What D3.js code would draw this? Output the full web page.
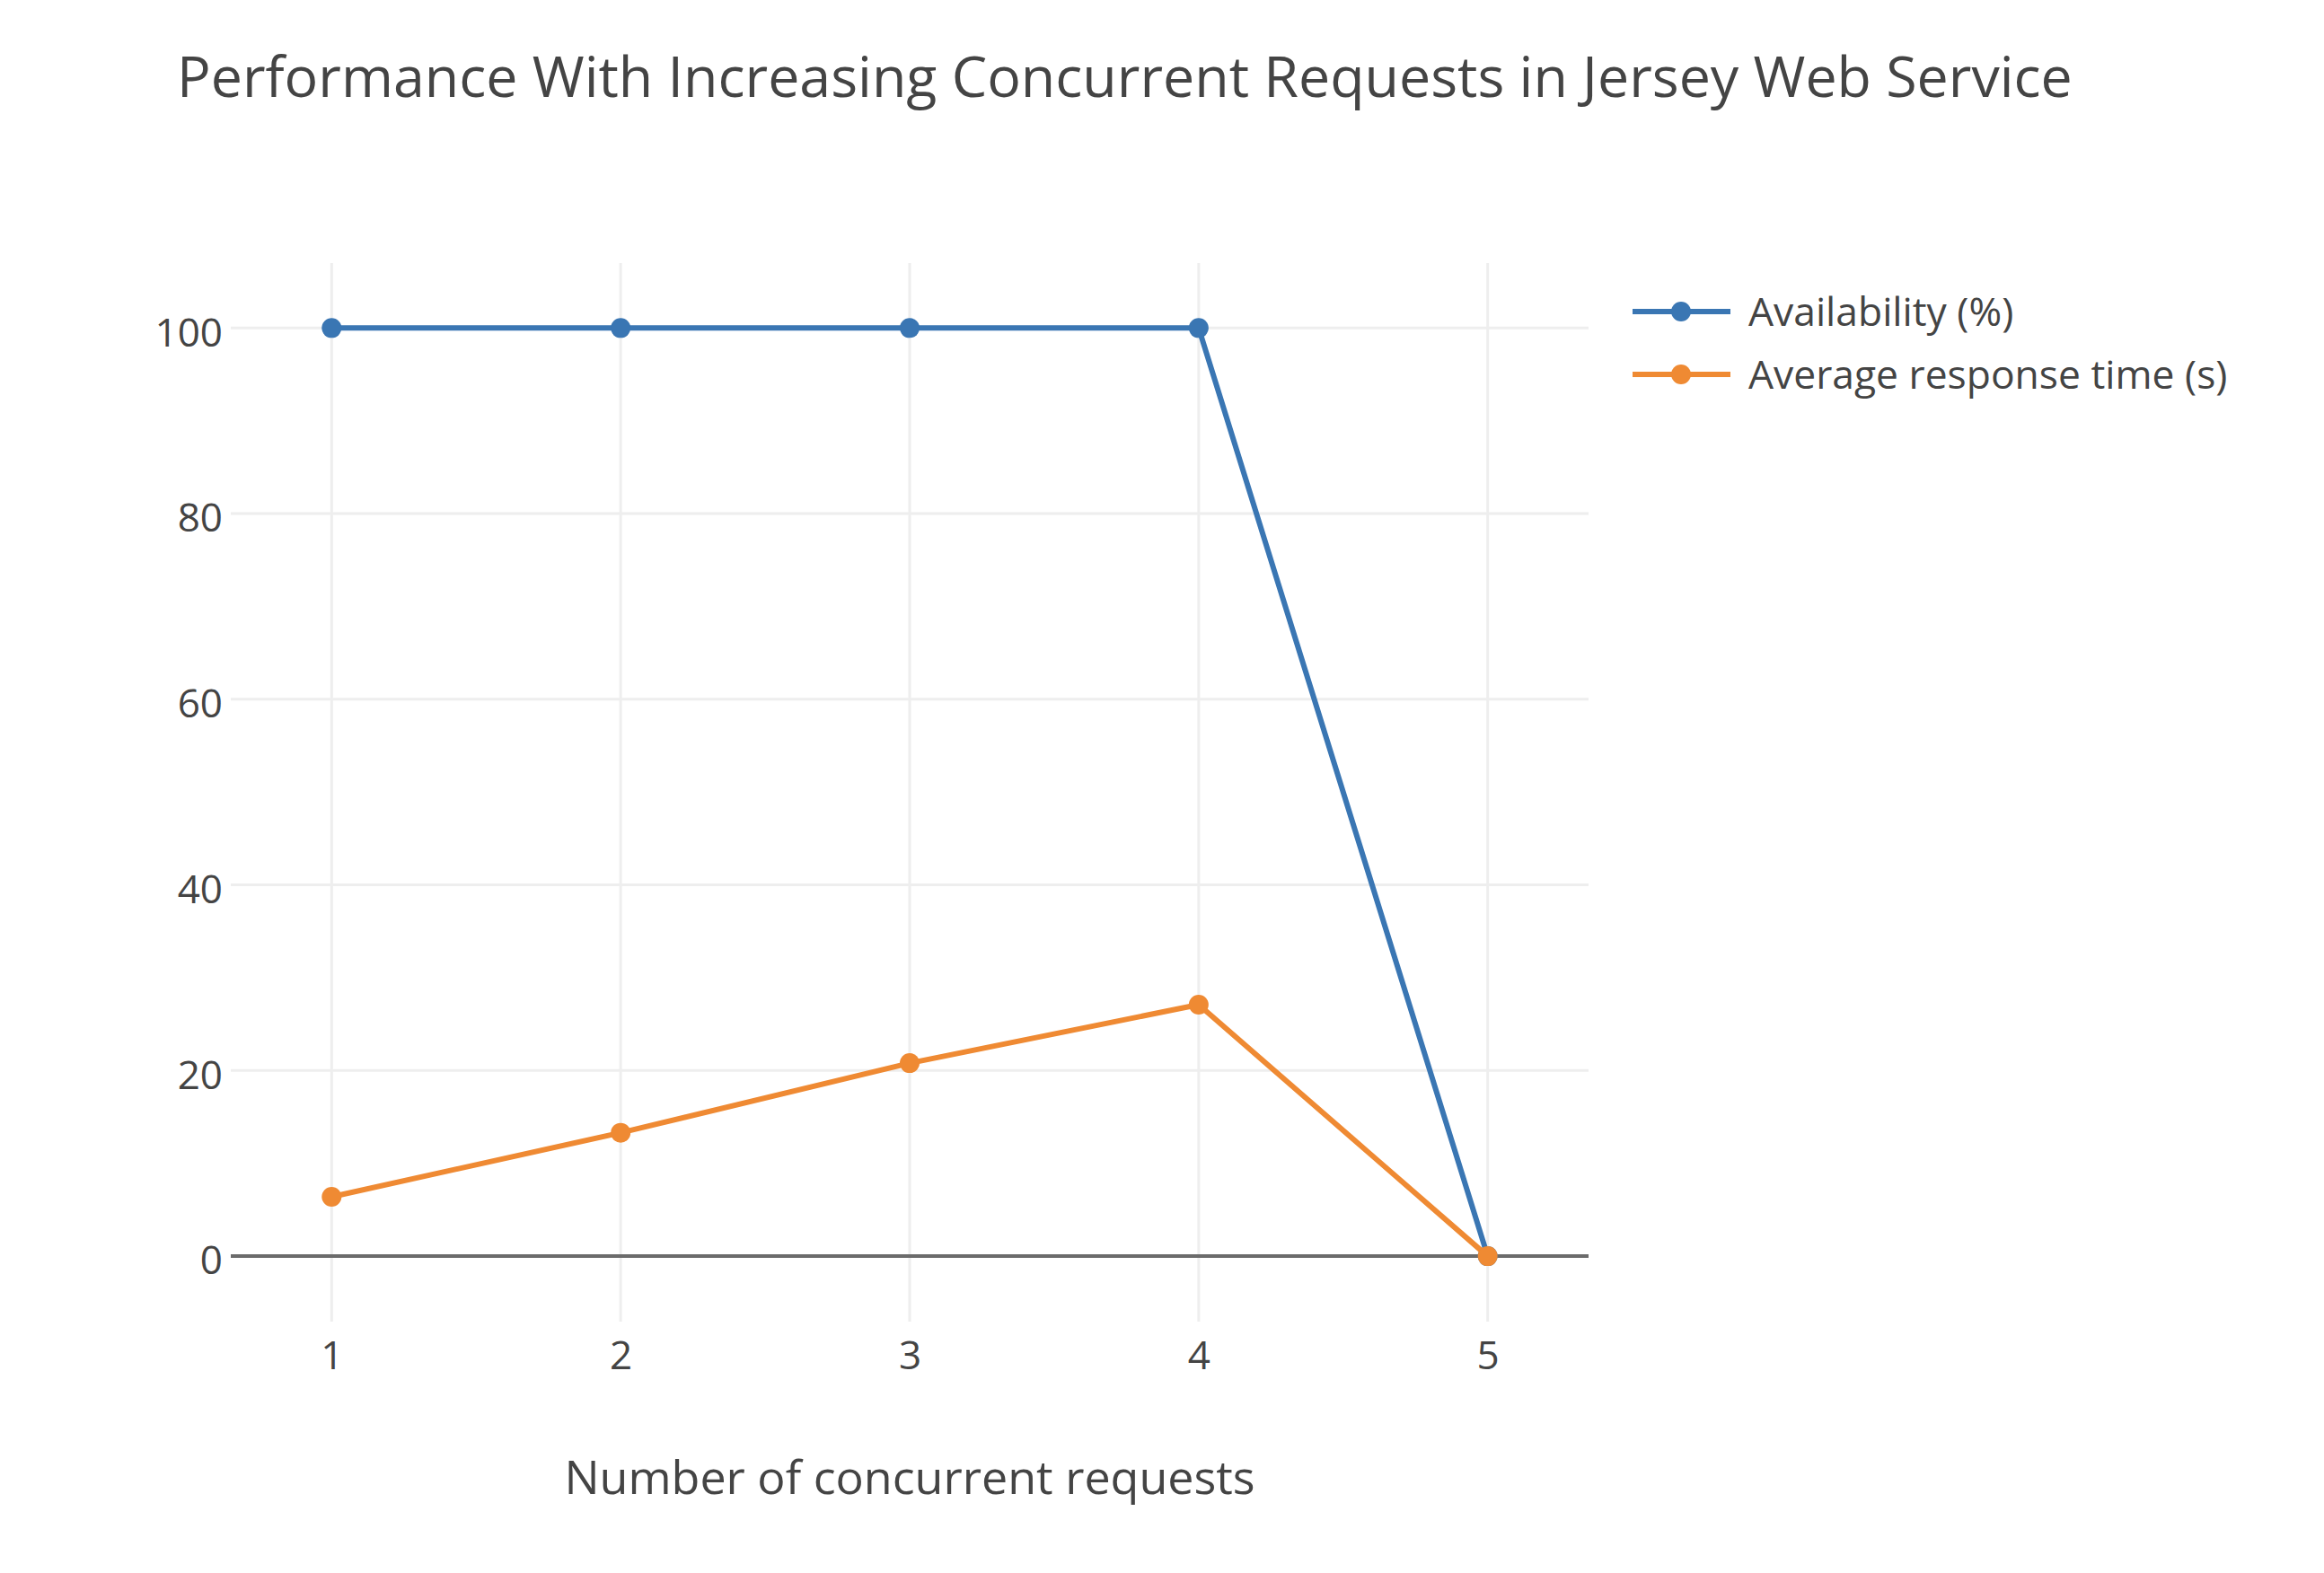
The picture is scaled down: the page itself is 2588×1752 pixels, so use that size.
<!DOCTYPE html>
<html>
<head>
<meta charset="utf-8">
<script src="https://cdn.jsdelivr.net/npm/d3@7"></script>
<style>
  html, body { margin: 0; padding: 0; background: #fff; }
  text { font-family: "Open Sans", sans-serif; fill: #444; }
</style>
</head>
<body>
<script>
// ---- data ----
const requests = [1, 2, 3, 4, 5];
const availability = [100, 100, 100, 100, 0];
const responseTime = [6.4, 13.3, 20.8, 27.1, 0];
const seriesNames = ["Availability (%)", "Average response time (s)"];
const seriesColors = ["#3a76b3", "#ef8a33"];
const xTicks = [1, 2, 3, 4, 5];
const yTicks = [0, 20, 40, 60, 80, 100];
const chartTitle = "Performance With Increasing Concurrent Requests in Jersey Web Service";
const xTitle = "Number of concurrent requests";

// ---- layout ----
const W = 2588, H = 1752;
const plot = { left: 257, right: 1769, top: 293, bottom: 1472 };

const svg = d3.select("body").append("svg")
  .attr("width", W).attr("height", H)
  .style("background", "#fff");

const x = d3.scaleLinear().domain([0.651, 5.349]).range([plot.left, plot.right]);
const y = d3.scaleLinear().domain([-7.05, 107.0]).range([plot.bottom, plot.top]);

// grid
const grid = svg.append("g");
grid.selectAll("line.vx").data(xTicks).join("line")
  .attr("x1", d => x(d)).attr("x2", d => x(d))
  .attr("y1", plot.top).attr("y2", plot.bottom)
  .attr("stroke", "#eeeeee").attr("stroke-width", 3);
grid.selectAll("line.hy").data(yTicks.filter(d => d !== 0)).join("line")
  .attr("x1", plot.left).attr("x2", plot.right)
  .attr("y1", d => y(d)).attr("y2", d => y(d))
  .attr("stroke", "#eeeeee").attr("stroke-width", 3);

// zero line
svg.append("line")
  .attr("x1", plot.left).attr("x2", plot.right)
  .attr("y1", y(0)).attr("y2", y(0))
  .attr("stroke", "#6b6b6b").attr("stroke-width", 4);

// axes via d3 axis generators (domain & tick lines hidden)
const xAxis = svg.append("g")
  .attr("transform", `translate(0,${plot.bottom})`)
  .call(d3.axisBottom(x).tickValues(xTicks).tickFormat(d3.format("d")).tickSize(0).tickPadding(22));
xAxis.select(".domain").remove();
xAxis.selectAll("text").style("font-size", "44px").style("font-family", "'Open Sans', sans-serif").attr("fill", "#444");

const yAxis = svg.append("g")
  .attr("transform", `translate(${plot.left},0)`)
  .call(d3.axisLeft(y).tickValues(yTicks).tickFormat(d3.format("d")).tickSize(0).tickPadding(9));
yAxis.select(".domain").remove();
yAxis.selectAll("text").style("font-size", "44px").style("font-family", "'Open Sans', sans-serif").attr("fill", "#444")
  .attr("dy", "0.45em");

// series
const series = [availability, responseTime];
const line = d3.line().x((d, i) => x(requests[i])).y(d => y(d));
series.forEach((vals, si) => {
  const g = svg.append("g");
  g.append("path").datum(vals)
    .attr("d", line)
    .attr("fill", "none")
    .attr("stroke", seriesColors[si])
    .attr("stroke-width", 6)
    .attr("stroke-linejoin", "round");
  g.selectAll("circle").data(vals).join("circle")
    .attr("cx", (d, i) => x(requests[i]))
    .attr("cy", d => y(d))
    .attr("r", 11)
    .attr("fill", seriesColors[si]);
});

// title
svg.append("text")
  .attr("x", 197).attr("y", 108)
  .style("font-size", "62.7px")
  .text(chartTitle);

// x-axis title
svg.append("text")
  .attr("x", (plot.left + plot.right) / 2).attr("y", 1664)
  .attr("text-anchor", "middle")
  .style("font-size", "52px")
  .text(xTitle);

// legend
const legendY = [347, 417];
const legend = svg.append("g");
seriesNames.forEach((name, i) => {
  const gy = legendY[i];
  legend.append("line")
    .attr("x1", 1818).attr("x2", 1927)
    .attr("y1", gy).attr("y2", gy)
    .attr("stroke", seriesColors[i]).attr("stroke-width", 6);
  legend.append("circle")
    .attr("cx", 1872).attr("cy", gy).attr("r", 11)
    .attr("fill", seriesColors[i]);
  legend.append("text")
    .attr("x", 1947).attr("y", gy + 16)
    .style("font-size", "44.4px")
    .text(name);
});
</script>
</body>
</html>
